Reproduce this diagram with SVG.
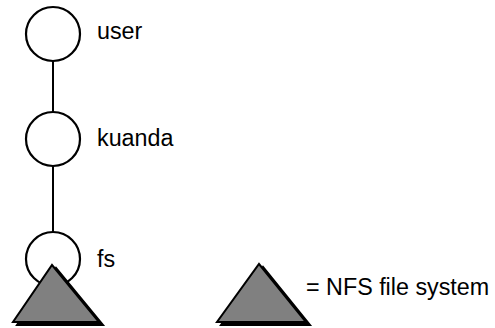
<svg xmlns="http://www.w3.org/2000/svg" width="495" height="328" viewBox="0 0 495 328">
<style>
.node circle{fill:#fff;stroke:#000;stroke-width:2.2}
.lbl{font-family:"Liberation Sans",Arial,sans-serif;font-size:23.3px;fill:#000}
.edge{stroke:#000;stroke-width:2;fill:none}
.tri{fill:#808080;stroke:#000;stroke-width:2;stroke-linejoin:miter}
.sh{fill:#000;stroke:#000;stroke-width:2}
</style>
<rect width="495" height="328" fill="#fff"/>
<g id="connectors">
<line class="edge" x1="53" y1="61" x2="53" y2="113"/>
<line class="edge" x1="53" y1="166" x2="53" y2="233"/>
</g>
<g id="user" class="node">
<circle cx="53" cy="34" r="27"/>
<text class="lbl" x="97" y="39">user</text>
</g>
<g id="kuanda" class="node">
<circle cx="53" cy="139" r="27"/>
<text class="lbl" x="97" y="146">kuanda</text>
</g>
<g id="fs" class="node">
<circle cx="53" cy="259" r="27"/>
<text class="lbl" x="97" y="267">fs</text>
<polygon class="sh" points="56,268 103,325 17,325"/>
<polygon class="tri" points="52,265 99,322 13,322"/>
</g>
<g id="legend">
<polygon class="sh" points="263,267 310,325 221,325"/>
<polygon class="tri" points="259,264 306,322 217,322"/>
<text class="lbl" x="306" y="295">= NFS file system</text>
</g>
</svg>
